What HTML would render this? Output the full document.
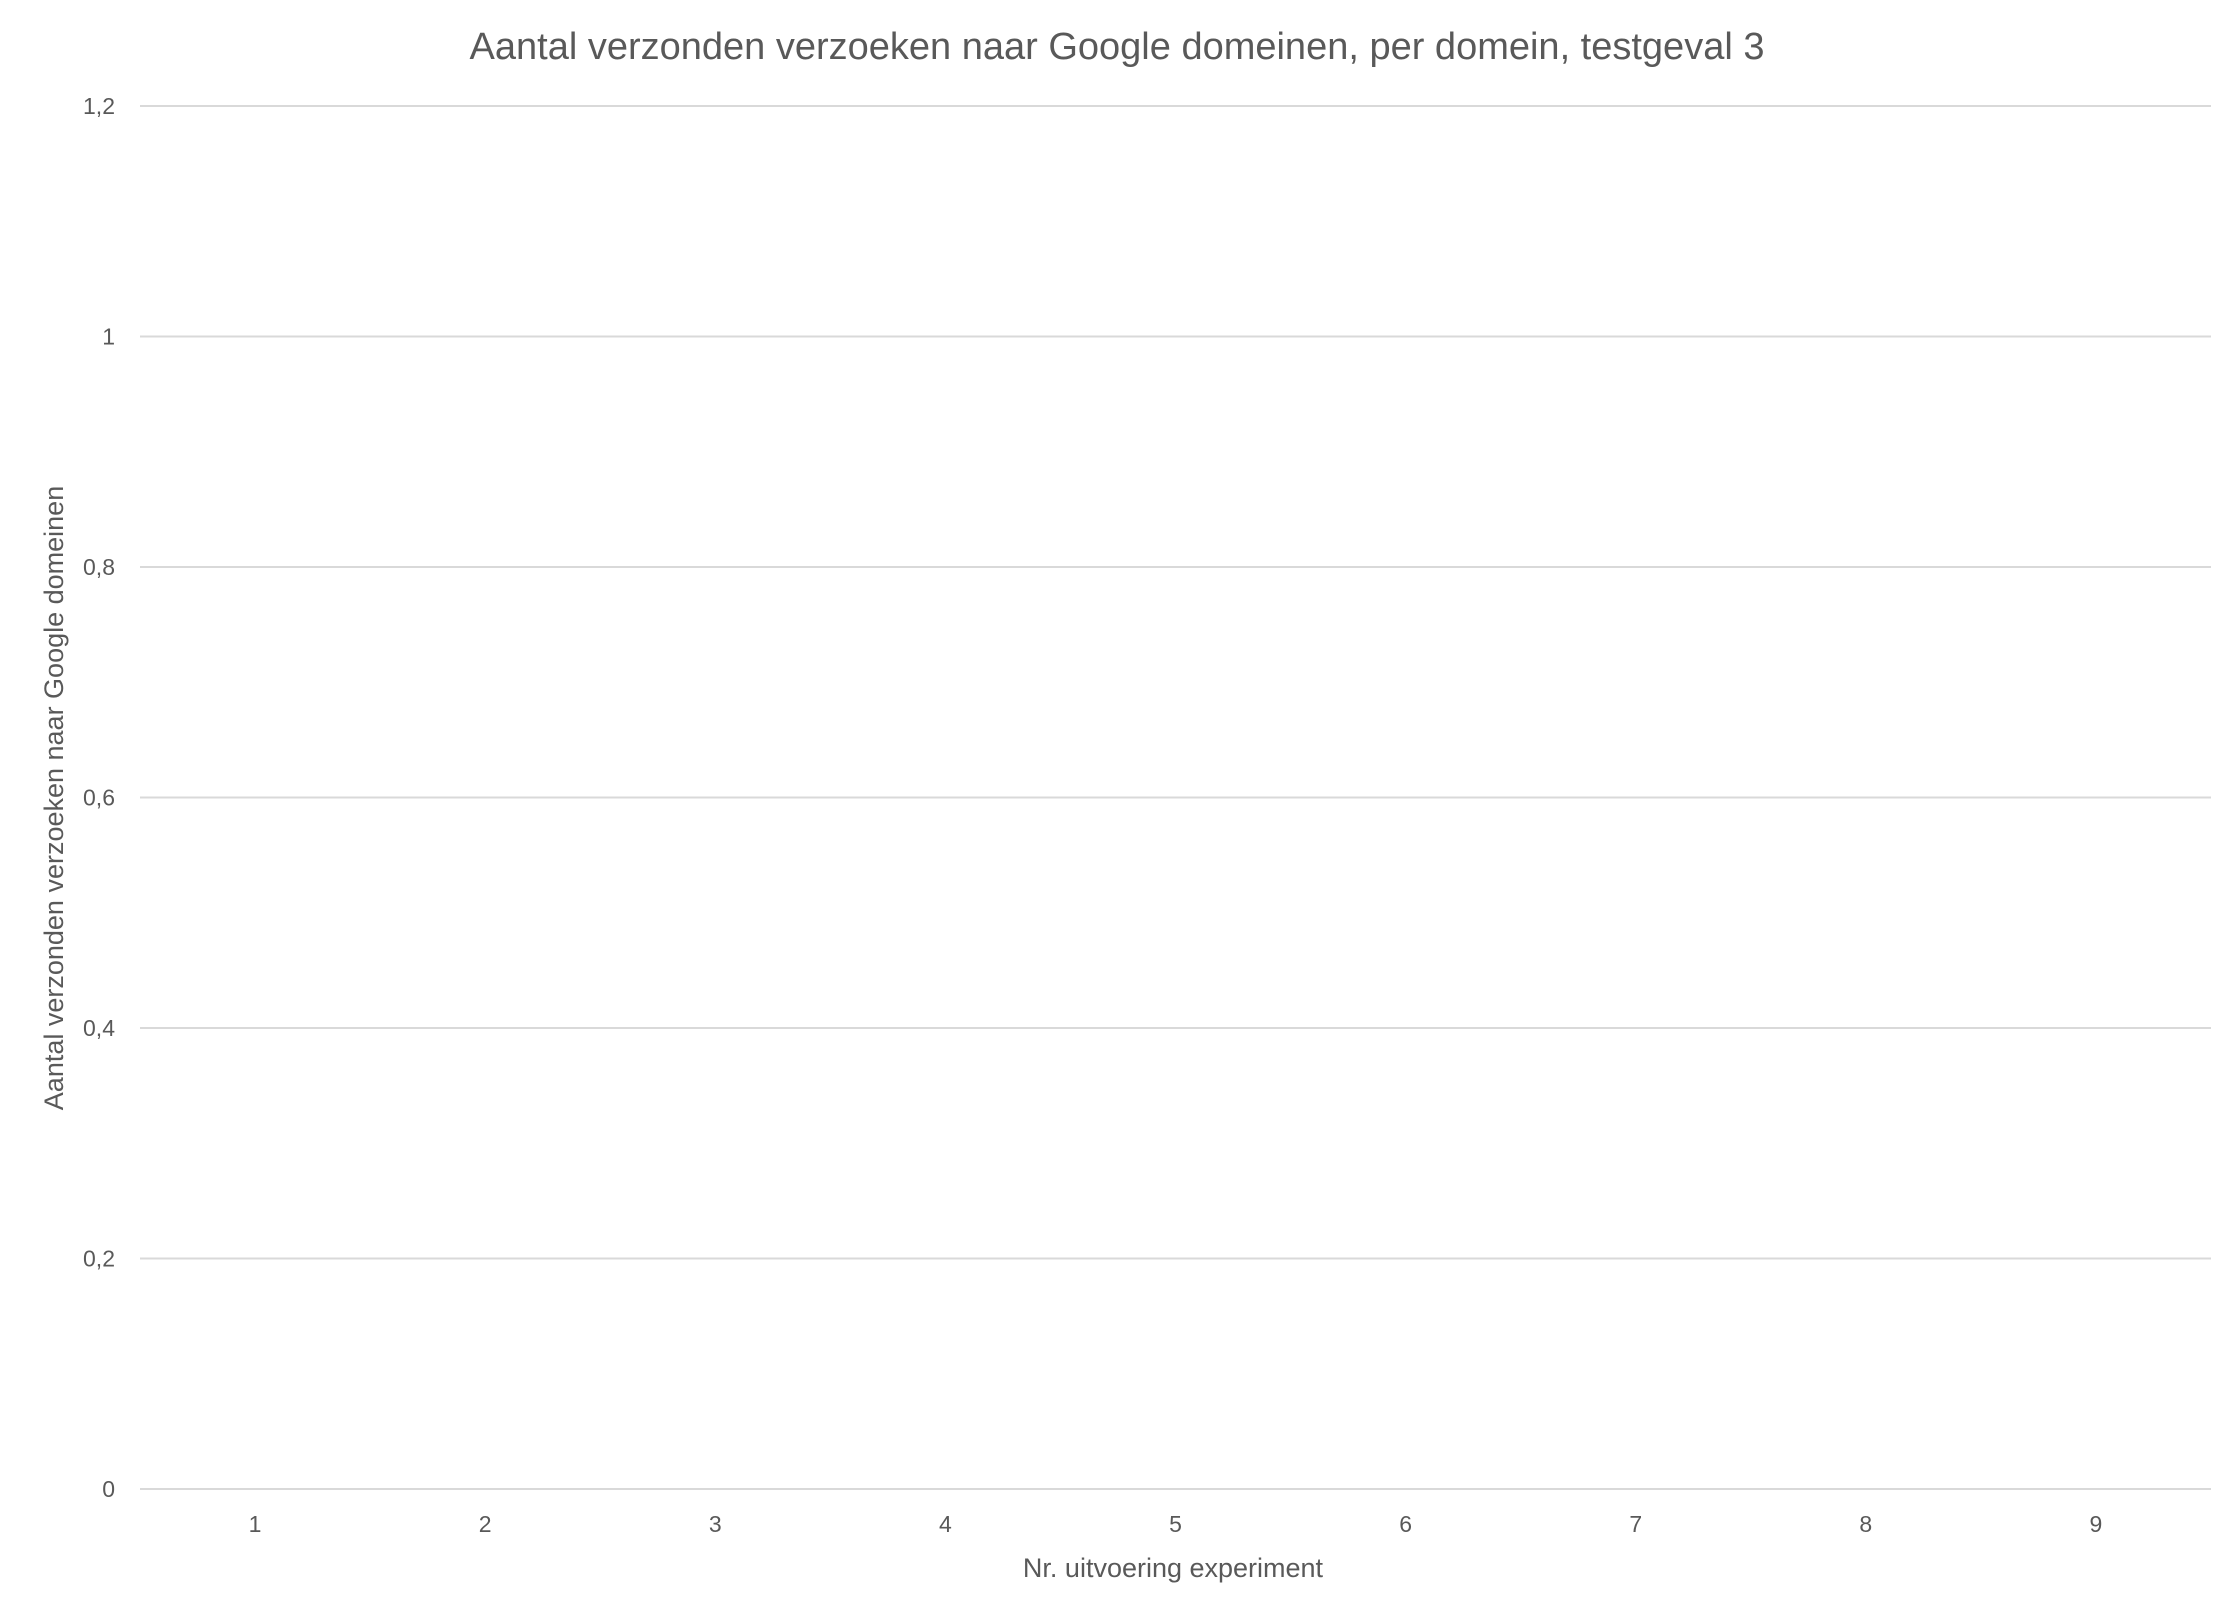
<!DOCTYPE html>
<html><head><meta charset="utf-8"><style>
html,body{margin:0;padding:0;background:#fff;}
svg{display:block;font-family:"Liberation Sans",sans-serif;}
</style></head><body>
<svg id="chart" width="2238" height="1620" viewBox="0 0 2238 1620">
<text x="1117" y="59" text-anchor="middle" font-size="38" fill="#595959">Aantal verzonden verzoeken naar Google domeinen, per domein, testgeval 3</text>
<g id="grid"></g><g id="marks"></g><g id="xticks"></g><g id="yticks"></g>
<text transform="translate(63,798) rotate(-90)" text-anchor="middle" font-size="27" fill="#595959">Aantal verzonden verzoeken naar Google domeinen</text>
<text x="1173" y="1577" text-anchor="middle" font-size="27" fill="#595959">Nr. uitvoering experiment</text>
</svg>
<script>
const categories = ["1","2","3","4","5","6","7","8","9"];
const values = [0,0,0,0,0,0,0,0,0];
const yTicks = [0,0.2,0.4,0.6,0.8,1,1.2];
const yTickLabels = ["0","0,2","0,4","0,6","0,8","1","1,2"];
const NS="http://www.w3.org/2000/svg";
const L=140,R=2211,T=106,B=1489,yMax=1.2;
function y(v){return B-(v/yMax)*(B-T);}
function xc(i){return L+(R-L)/categories.length*(i+0.5);}
const grid=document.getElementById('grid'),yt=document.getElementById('yticks'),xt=document.getElementById('xticks'),mk=document.getElementById('marks');
yTicks.forEach((v,i)=>{
  const ln=document.createElementNS(NS,'line');
  ln.setAttribute('x1',L);ln.setAttribute('x2',R);ln.setAttribute('y1',y(v));ln.setAttribute('y2',y(v));
  ln.setAttribute('stroke','#d9d9d9');ln.setAttribute('stroke-width','2');
  
  
  grid.appendChild(ln);
  const t=document.createElementNS(NS,'text');
  t.setAttribute('x',115);t.setAttribute('y',y(v)+8);t.setAttribute('text-anchor','end');
  t.setAttribute('font-size','23');t.setAttribute('fill','#595959');
  t.textContent=yTickLabels[i];
  
  
  yt.appendChild(t);
});
categories.forEach((c,i)=>{
  const t=document.createElementNS(NS,'text');
  t.setAttribute('x',xc(i));t.setAttribute('y',1532);t.setAttribute('text-anchor','middle');
  t.setAttribute('font-size','23');t.setAttribute('fill','#595959');
  t.textContent=c;
  
  
  xt.appendChild(t);
  const r=document.createElementNS(NS,'rect');
  const w=(R-L)/categories.length*0.5;
  r.setAttribute('x',xc(i)-w/2);r.setAttribute('width',w);
  r.setAttribute('y',y(values[i]));r.setAttribute('height',Math.max(0,B-y(values[i])));
  r.setAttribute('fill','#4472c4');
  
  
  mk.appendChild(r);
});
</script>
</body></html>
